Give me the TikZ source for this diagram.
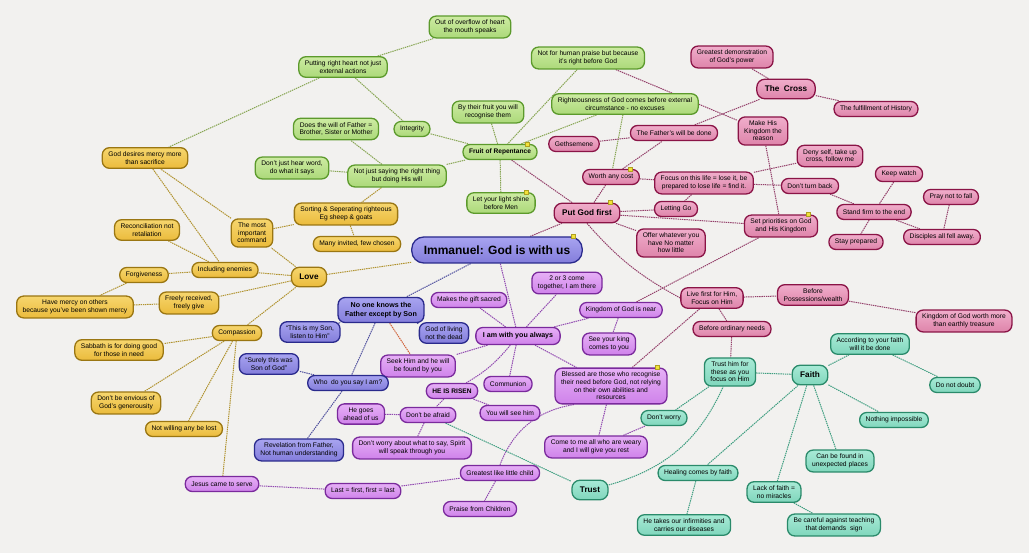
\documentclass[tikz,border=0pt]{standalone}
\usepackage{fontspec}
\setmainfont{Liberation Sans}
\usepackage{xcolor}
\definecolor{paper}{HTML}{F2F1EF}
\definecolor{ytop}{HTML}{F6D66E}\definecolor{ybot}{HTML}{EBBB3C}\definecolor{ydraw}{HTML}{9A7612}\definecolor{yline}{HTML}{B0922E}
\definecolor{gtop}{HTML}{CDEBA2}\definecolor{gbot}{HTML}{ACD97A}\definecolor{gdraw}{HTML}{5C9A2C}\definecolor{gline}{HTML}{88A654}
\definecolor{ptop}{HTML}{F0AECB}\definecolor{pbot}{HTML}{DE84AA}\definecolor{pdraw}{HTML}{8A1446}\definecolor{pline}{HTML}{94406A}
\definecolor{vtop}{HTML}{E6B0F6}\definecolor{vbot}{HTML}{CF82EA}\definecolor{vdraw}{HTML}{7A2A9C}\definecolor{vline}{HTML}{9048B0}
\definecolor{btop}{HTML}{A8A4F0}\definecolor{bbot}{HTML}{837DDB}\definecolor{bdraw}{HTML}{2A2A8C}\definecolor{bline}{HTML}{50509E}
\definecolor{ttop}{HTML}{A8EAD6}\definecolor{tbot}{HTML}{80D6BC}\definecolor{tdraw}{HTML}{2A8A6A}\definecolor{tline}{HTML}{3E9E80}
\definecolor{rline}{HTML}{D0643C}
\definecolor{flagc}{HTML}{F2E23A}\definecolor{flagd}{HTML}{B0A020}
\pgfdeclarelayer{back}
\pgfsetlayers{back,main}
\tikzset{
  idea/.style={rounded corners=7pt,line width=1.3pt,align=center,inner xsep=6pt,inner ysep=4pt,minimum height=15pt,font=\fontsize{6.7}{7.6}\selectfont},
  head/.style={rounded corners=8pt,inner xsep=8pt,minimum height=19.5pt,font=\fontsize{8.2}{9.5}\selectfont\bfseries},
  bold/.style={font=\fontsize{6.6}{7.8}\selectfont\bfseries},
  bolder/.style={font=\fontsize{7.1}{8.4}\selectfont\bfseries,inner xsep=7pt,inner ysep=5pt,minimum height=17pt},
  ynode/.style={idea,draw=ydraw,top color=ytop,bottom color=ybot},
  gnode/.style={idea,draw=gdraw,top color=gtop,bottom color=gbot},
  pnode/.style={idea,draw=pdraw,top color=ptop,bottom color=pbot},
  vnode/.style={idea,draw=vdraw,top color=vtop,bottom color=vbot},
  bnode/.style={idea,draw=bdraw,top color=btop,bottom color=bbot},
  tnode/.style={idea,draw=tdraw,top color=ttop,bottom color=tbot},
  link/.style={line width=1pt,dash pattern=on 1.4pt off .8pt},
  ylink/.style={link,draw=yline},
  glink/.style={link,draw=gline},
  plink/.style={link,draw=pline},
  vlink/.style={link,draw=vline},
  blink/.style={link,draw=bline},
  tlink/.style={link,draw=tline},
  rlink/.style={link,draw=rline},
  flag/.style={fill=flagc,draw=flagd,line width=.4pt},
}
\begin{document}
\begin{tikzpicture}[x=1pt,y=1pt]

% love
\node[ynode] (mercy) at (145,-158) {God desires mercy more\\than sacrifice};
\node[ynode] (cmd) at (252,-233) {The most\\important\\command};
\node[ynode] (sort) at (346,-214) {Sorting \& Seperating righteous\\Eg sheep \& goats};
\node[ynode] (many) at (357,-244) {Many invited, few chosen};
\node[ynode] (recon) at (147,-230) {Reconciliation not\\retaliation};
\node[ynode] (enemies) at (225,-270) {Including enemies};
\node[ynode,head] (love) at (309,-277) {Love};
\node[ynode] (forgive) at (144,-275) {Forgiveness};
\node[ynode] (havemercy) at (75,-307) {Have mercy on others\\because you've been shown mercy};
\node[ynode] (freely) at (189,-303) {Freely received,\\freely give};
\node[ynode] (compassion) at (237,-333) {Compassion};
\node[ynode] (sabbath) at (119,-350) {Sabbath is for doing good\\for those in need};
\node[ynode] (envy) at (126,-403) {Don't be envious of\\God's generousity};
\node[ynode] (lost) at (184,-429) {Not willing any be lost};

% fruit
\node[gnode] (overflow) at (470,-27) {Out of overflow of heart\\the mouth speaks};
\node[gnode] (heart) at (343,-67) {Putting right heart not just\\external actions};
\node[gnode] (will) at (336,-129) {Does the will of Father =\\Brother, Sister or Mother};
\node[gnode] (hear) at (292,-168) {Don't just hear word,\\do what it says};
\node[gnode] (saying) at (397,-176) {Not just saying the right thing\\but doing His will};
\node[gnode] (integrity) at (412,-129) {Integrity};
\node[gnode] (byfruit) at (488,-112) {By their fruit you will\\recognise them};
\node[gnode,bold] (fruit) at (500,-152) {Fruit of Repentance};
\node[gnode] (praise) at (588,-58) {Not for human praise but because\\it's right before God};
\node[gnode] (right) at (625,-104) {Righteousness of God comes before external\\circumstance - no excuses};
\node[gnode] (light) at (501,-203) {Let your light shine\\before Men};

% put God first
\node[pnode] (power) at (732,-57) {Greatest demonstration\\of God's power};
\node[pnode,head] (cross) at (786,-89) {The~ Cross};
\node[pnode] (history) at (876,-109) {The fulfillment of History};
\node[pnode] (reason) at (763,-131) {Make His\\Kingdom the\\reason};
\node[pnode] (geth) at (574,-144) {Gethsemene};
\node[pnode] (fwill) at (674,-133) {The Father's will be done};
\node[pnode] (worth) at (611,-177) {Worth any cost};
\node[pnode] (focus) at (704,-183) {Focus on this life = lose it, be\\prepared to lose life = find it.};
\node[pnode] (deny) at (830,-156) {Deny self, take up\\cross, follow me};
\node[pnode] (noturn) at (810,-186) {Don't turn back};
\node[pnode] (watch) at (899,-174) {Keep watch};
\node[pnode] (pray) at (951,-197) {Pray not to fall};
\node[pnode] (stand) at (874,-212) {Stand firm to the end};
\node[pnode] (stay) at (856,-242) {Stay prepared};
\node[pnode] (fell) at (942,-237) {Disciples all fell away.};
\node[pnode] (prio) at (781,-226) {Set priorities on God\\and His Kingdom};
\node[pnode] (letgo) at (676,-209) {Letting Go};
\node[pnode,head] (pgf) at (587,-213) {Put God first};
\node[pnode] (offer) at (671,-243) {Offer whatever you\\have No matter\\how little};
\node[pnode] (livefirst) at (712,-298) {Live first for Him,\\Focus on Him};
\node[pnode] (wealth) at (813,-295) {Before\\Possessions/wealth};
\node[pnode] (treasure) at (964,-321) {Kingdom of God worth more\\than earthly treasure};
\node[pnode] (needs) at (732,-329) {Before ordinary needs};

% with you always
\node[vnode] (serve) at (222,-484) {Jesus came to serve};
\node[vnode] (last) at (363,-491) {Last = first, first = last};
\node[vnode] (child) at (500,-473) {Greatest like little child};
\node[vnode] (children) at (480,-509) {Praise from Children};
\node[vnode] (spirit) at (412,-448) {Don't worry about what to say, Spirit\\will speak through you};
\node[vnode] (ahead) at (361,-414) {He goes\\ahead of us};
\node[vnode] (afraid) at (428,-415) {Don't be afraid};
\node[vnode,bold] (risen) at (452,-391) {HE IS RISEN};
\node[vnode] (seehim) at (510,-413) {You will see him};
\node[vnode] (communion) at (508,-384) {Communion};
\node[vnode] (seek) at (418,-366) {Seek Him and he will\\be found by you};
\node[vnode] (gift) at (469,-300) {Makes the gift sacred};
\node[vnode,bolder] (always) at (518,-336) {I am with you always};
\node[vnode] (two) at (567,-283) {2 or 3 come\\together, I am there};
\node[vnode] (near) at (621,-310) {Kingdom of God is near};
\node[vnode] (king) at (609,-344) {See your king\\comes to you};
\node[vnode] (bless) at (611,-386) {Blessed are those who recognise\\their need before God, not relying\\on their own abilities and\\resources};
\node[vnode] (weary) at (596,-447) {Come to me all who are weary\\and I will give you rest};

% centre and the Son
\node[bnode,font=\fontsize{12}{14}\selectfont\bfseries,inner xsep=12pt,minimum height=26pt,rounded corners=12pt] (imm) at (497,-250) {Immanuel: God is with us};
\node[bnode,bolder] (noone) at (381,-310) {No one knows the\\Father except by Son};
\node[bnode] (son) at (310,-332) {``This is my Son,\\listen to Him''};
\node[bnode] (living) at (444,-333) {God of living\\not the dead};
\node[bnode] (surely) at (269,-364) {``Surely this was\\Son of God''};
\node[bnode] (who) at (348,-383) {Who~ do you say I am?};
\node[bnode] (revel) at (299,-450) {Revelation from Father,\\Not human understanding};

% faith and trust
\node[tnode] (trusthim) at (730,-372) {Trust him for\\these as you\\focus on Him};
\node[tnode,head] (faith) at (810,-375) {Faith};
\node[tnode] (accord) at (870,-344) {According to your faith\\will it be done};
\node[tnode] (doubt) at (955,-385) {Do not doubt};
\node[tnode] (nothing) at (894,-420) {Nothing impossible};
\node[tnode] (found) at (840,-461) {Can be found in\\unexpected places};
\node[tnode] (lack) at (774,-492) {Lack of faith =\\no miracles};
\node[tnode] (careful) at (834,-525) {Be careful against teaching\\that demands~ sign};
\node[tnode] (healing) at (698,-473) {Healing comes by faith};
\node[tnode] (infirm) at (684,-525) {He takes our infirmities and\\carries our diseases};
\node[tnode] (dontworry) at (664,-418) {Don't worry};
\node[tnode,head] (trust) at (590,-490) {Trust};

\foreach \n in {imm,fruit,pgf,worth,prio,bless,light}
  \filldraw[flag] ([xshift=-12pt,yshift=-2pt]\n.north east) rectangle ++(4pt,4pt);

\begin{pgfonlayer}{back}
\fill[paper] (0,0) rectangle (1029,-553);
\path
(imm) edge[ylink] (love)
(love) edge[ylink] (cmd)
(love) edge[ylink] (enemies)
(love) edge[ylink] (freely)
(love) edge[ylink] (compassion)
(cmd) edge[ylink] (mercy)
(cmd) edge[ylink] (sort)
(sort) edge[ylink] (many)
(saying) edge[ylink] (sort)
(mercy) edge[ylink] (enemies)
(recon) edge[ylink] (enemies)
(forgive) edge[ylink] (enemies)
(forgive) edge[ylink] (havemercy)
(havemercy) edge[ylink] (freely)
(compassion) edge[ylink] (sabbath)
(compassion) edge[ylink] (envy)
(compassion) edge[ylink] (lost)
(compassion) edge[ylink] (serve)
(heart) edge[glink] (mercy)
(heart) edge[glink] (overflow)
(heart) edge[glink] (integrity)
(integrity) edge[glink] (fruit)
(byfruit) edge[glink] (fruit)
(praise) edge[glink] (fruit)
(right) edge[glink] (fruit)
(saying) edge[glink] (fruit)
(fruit) edge[glink] (light)
(saying) edge[glink] (will)
(saying) edge[glink] (hear)
(right) edge[glink] (worth)
(imm) edge[plink] (pgf)
(fruit) edge[plink] (pgf)
(pgf) edge[plink] (worth)
(pgf) edge[plink] (letgo)
(pgf) edge[plink] (offer)
(pgf) edge[plink] (prio)
(pgf.south) edge[plink,bend right=10] (livefirst.west)
(worth) edge[plink] (fwill)
(worth) edge[plink] (focus)
(geth) edge[plink] (fwill)
(fwill) edge[plink] (cross)
(praise) edge[plink] (reason)
(cross) edge[plink] (power)
(cross) edge[plink] (history)
(reason) edge[plink] (prio)
(focus) edge[plink] (deny)
(focus) edge[plink] (noturn)
(focus) edge[plink] (letgo)
(noturn) edge[plink] (stand)
(watch) edge[plink] (stand)
(stand) edge[plink] (stay)
(stand) edge[plink] (fell)
(pray) edge[plink] (fell)
(near) edge[plink] (prio)
(bless) edge[plink] (livefirst)
(livefirst) edge[plink] (wealth)
(wealth) edge[plink] (treasure)
(livefirst) edge[plink] (needs)
(needs) edge[plink] (trusthim)
(imm) edge[vlink] (always)
(always) edge[vlink] (gift)
(always) edge[vlink] (two)
(always) edge[vlink] (near)
(near) edge[vlink] (king)
(always) edge[vlink] (bless)
(always) edge[vlink] (seek)
(always) edge[vlink] (communion)
(always) edge[vlink,bend left=10] (risen)
(risen) edge[vlink] (seehim)
(risen) edge[vlink] (afraid)
(afraid) edge[vlink] (ahead)
(afraid) edge[vlink] (spirit)
(serve) edge[vlink] (last)
(last) edge[vlink] (child)
(child) edge[vlink] (children)
(child.north) edge[vlink,bend left=30] ([xshift=20pt]bless.south west)
(bless) edge[vlink] (weary)
(dontworry) edge[vlink] (weary)
(imm) edge[blink] (noone)
(noone) edge[blink] (son)
(noone) edge[blink] (living)
(noone) edge[blink] (who)
(who) edge[blink] (surely)
(who) edge[blink] (revel)
(noone) edge[rlink] (seek)
(afraid) edge[tlink] (trust)
(trust) edge[tlink,bend right=25] (trusthim)
(trusthim) edge[tlink] (dontworry)
(trusthim) edge[tlink] (faith)
(faith) edge[tlink] (healing)
(healing) edge[tlink] (infirm)
(faith) edge[tlink] (lack)
(lack) edge[tlink] (careful)
(faith) edge[tlink] (found)
(faith) edge[tlink] (nothing)
(faith) edge[tlink] (accord)
(accord) edge[tlink] (doubt);
\end{pgfonlayer}

\end{tikzpicture}
\end{document}
